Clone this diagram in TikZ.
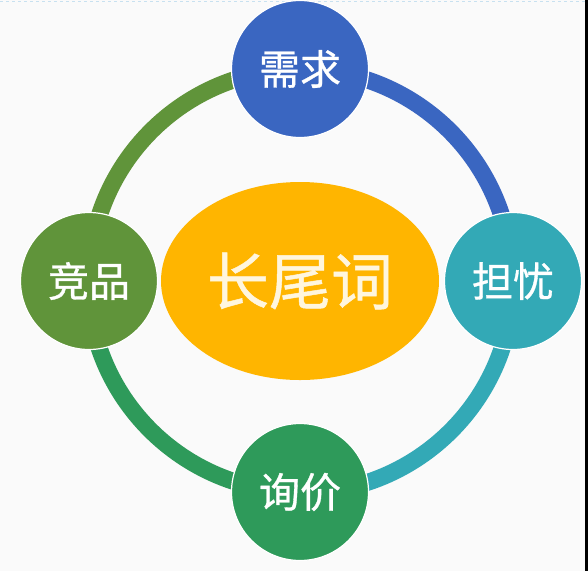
\documentclass[tikz,border=0pt]{standalone}
\usepackage{fontspec}
\newfontfamily\cjk[FakeBold=0.8]{Noto Sans CJK SC}
\usetikzlibrary{shapes.geometric}
\definecolor{bgc}{RGB}{250,250,250}
\definecolor{cblue}{RGB}{58,102,193}
\definecolor{cteal}{RGB}{51,169,182}
\definecolor{cgreen}{RGB}{46,154,90}
\definecolor{colive}{RGB}{96,148,58}
\definecolor{camber}{RGB}{255,181,0}
\definecolor{ctext}{RGB}{255,246,222}
\definecolor{cdash}{RGB}{200,225,240}
\tikzset{
  satellite/.style={circle, minimum size=137pt, inner sep=0pt, draw=white, line width=1.2pt,
    text=white, font=\cjk\fontsize{41}{41}\selectfont},
  ringarc/.style={line width=17pt},
}
\begin{document}
\begin{tikzpicture}[x=1pt,y=-1pt]
\useasboundingbox (0,0) rectangle (588,571);
\fill[bgc] (0,0) rectangle (588,571);
\fill[black] (585,0) rectangle (588,571);
\coordinate (dl) at (0,1.5);
\coordinate (dr) at (585,1.5);
\draw[cdash, line width=1.5pt, dash pattern=on 3pt off 3pt] (dl) -- (dr);
% positions
\coordinate (c) at (300,281);
\coordinate (ptop) at (300,69);
\coordinate (pright) at (513,281);
\coordinate (pbottom) at (300,492);
\coordinate (pleft) at (89,281);
% ring arcs
\draw[ringarc, cblue] (ptop) arc[start angle=-90, end angle=0, radius=212];
\draw[ringarc, cteal] (pright) arc[start angle=0, end angle=90, radius=212];
\draw[ringarc, cgreen] (pbottom) arc[start angle=90, end angle=180, radius=212];
\draw[ringarc, colive] (pleft) arc[start angle=180, end angle=270, radius=212];
% central ellipse
\node[ellipse, fill=camber, minimum width=278pt, minimum height=198pt, inner sep=0pt,
  text=ctext, font=\cjk\fontsize{62}{62}\selectfont] (main) at (c) {长尾词};
% satellites
\node[satellite, fill=cblue] (need) at (ptop) {需求};
\node[satellite, fill=cteal] (worry) at (pright) {担忧};
\node[satellite, fill=cgreen] (price) at (pbottom) {询价};
\node[satellite, fill=colive] (comp) at (pleft) {竞品};
\end{tikzpicture}
\end{document}
